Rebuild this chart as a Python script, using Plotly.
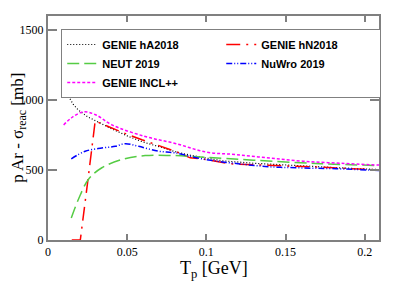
import plotly.graph_objects as go

# ---- data ----
T_hA = [0.0085, 0.010, 0.013, 0.016, 0.0193, 0.025, 0.030, 0.040, 0.051, 0.060, 0.070, 0.080, 0.090, 0.100, 0.110, 0.130, 0.160, 0.185, 0.209]
v_hA = [1120, 1075, 1025, 968, 927, 880, 852, 795, 739, 700, 667, 632, 605, 583, 566, 548, 528, 515, 503]

T_hN = [0.015, 0.0204, 0.025, 0.0298, 0.035, 0.0404, 0.050, 0.0593, 0.070, 0.0803, 0.0898, 0.100, 0.114, 0.132, 0.151, 0.167, 0.185, 0.209]
v_hN = [0, 0, 410, 850, 825, 798, 755, 716, 672, 634, 587, 575, 545, 535, 528, 523, 513, 500]

T_neut = [0.0147, 0.0193, 0.0256, 0.034, 0.0467, 0.0614, 0.0803, 0.100, 0.1297, 0.1718, 0.209]
v_neut = [157, 293, 434, 516, 575, 603, 603, 590, 570, 545, 532]

T_nuwro = [0.0147, 0.0235, 0.034, 0.0425, 0.0488, 0.0572, 0.0698, 0.0803, 0.098, 0.120, 0.140, 0.160, 0.182, 0.209]
v_nuwro = [580, 634, 657, 669, 688, 669, 634, 622, 578, 545, 523, 515, 509, 497]

T_incl = [0.0099, 0.0151, 0.0225, 0.030, 0.0404, 0.0614, 0.0803, 0.100, 0.119, 0.140, 0.161, 0.185, 0.209]
v_incl = [822, 875, 915, 895, 822, 739, 690, 628, 610, 585, 563, 548, 535]

x_ticks = [0, 0.05, 0.1, 0.15, 0.2]
x_ticklabels = ["0", "0.05", "0.1", "0.15", "0.2"]
y_ticks = [0, 500, 1000, 1500]
y_ticklabels = ["0", "500", "1000", "1500"]

series = [
    ("GENIE hA2018", T_hA, v_hA, dict(color="#000000", width=1.2, dash="1px,2px"), "linear"),
    ("GENIE hN2018", T_hN, v_hN, dict(color="#ff0000", width=1.5, dash="14px,6px,2px,6px"), "linear"),
    ("NEUT 2019", T_neut, v_neut, dict(color="#55cc44", width=1.5, dash="12px,5px"), "spline"),
    ("NuWro 2019", T_nuwro, v_nuwro, dict(color="#0000ff", width=1.5, dash="6px,2px,1px,2px,1px,2px"), "spline"),
    ("GENIE INCL++", T_incl, v_incl, dict(color="#ff00ff", width=1.5, dash="3px,2px"), "spline"),
]

fig = go.Figure()
for name, xs, ys, line, shape in series:
    line = dict(line)
    line["shape"] = shape
    fig.add_trace(go.Scatter(x=xs, y=ys, mode="lines", name=name, line=line))

axis_common = dict(
    showline=True, linecolor="#808080", linewidth=2, mirror="ticks",
    ticks="inside", tickcolor="#808080", tickwidth=1.5,
    showgrid=False, zeroline=False,
    tickfont=dict(family="Liberation Serif", size=12, color="black"),
)

# the page body adds an 8px margin, so the figure is 8px smaller and shifted
fig.update_layout(
    width=391, height=278,
    margin=dict(l=40, r=20, t=6, b=46),
    paper_bgcolor="white", plot_bgcolor="white",
    xaxis=dict(range=[0, 0.209], tickvals=x_ticks, ticktext=x_ticklabels, ticklen=6, **axis_common),
    yaxis=dict(range=[0, 1600], tickvals=y_ticks, ticktext=y_ticklabels, ticklen=9, **axis_common),
    showlegend=True,
    legend=dict(
        orientation="h", x=0.04, y=0.942, xanchor="left", yanchor="top",
        bgcolor="white", bordercolor="#808080", borderwidth=1,
        font=dict(family="Liberation Sans", size=11, color="black", weight="bold"),
        entrywidth=114, entrywidthmode="pixels",
        tracegroupgap=0,
    ),
    annotations=[
        dict(text="p Ar - σ<sub>reac</sub> [mb]", xref="paper", yref="paper",
             x=-0.088, y=0.5, xanchor="center", yanchor="middle", textangle=-90,
             showarrow=False, font=dict(family="Liberation Serif", size=17, color="black")),
        dict(text="T<sub>p</sub> [GeV]", xref="paper", yref="paper",
             x=0.5, y=-0.133, xanchor="center", yanchor="middle",
             showarrow=False, font=dict(family="Liberation Serif", size=18, color="black")),
    ],
)

fig.write_html("out.html")
